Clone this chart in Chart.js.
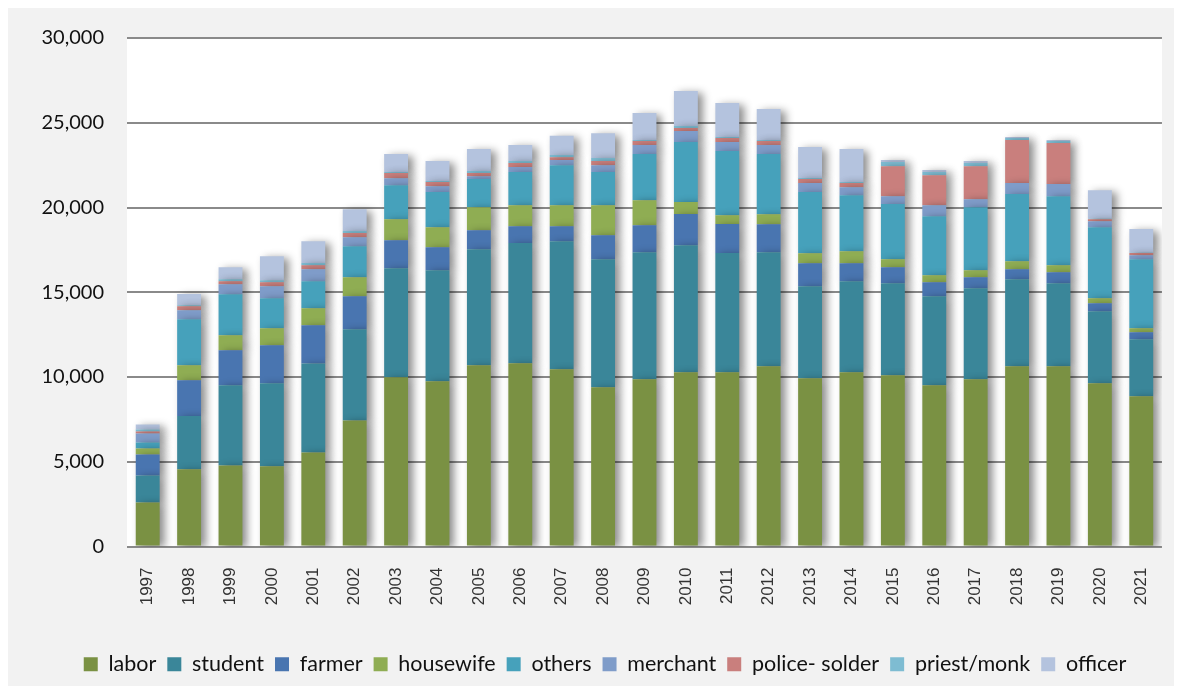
<!DOCTYPE html>
<html>
<head>
<meta charset="utf-8">
<script src="https://cdn.jsdelivr.net/npm/chart.js@4/dist/chart.umd.min.js"></script>
<style>
  body { margin: 0; background: #ffffff; }
  .wrap { position: absolute; left: 8px; top: 8px; width: 1166px; height: 678px; background: #f2f2f2; }
  canvas { position: absolute; left: 0; top: 0; }
</style>
</head>
<body>
<div class="wrap"></div>
<canvas id="chart" width="1183" height="693"></canvas>
<script>
// years
const years = ["1997","1998","1999","2000","2001","2002","2003","2004","2005","2006","2007","2008","2009",
  "2010","2011","2012","2013","2014","2015","2016","2017","2018","2019","2020","2021"];

// values, per occupation
const labor     = [2600,4560,4780,4730,5550,7440,9980,9750,10690,10810,10450,9390,9860,10280,10280,10630,9920,10280,10100,9510,9860,10630,10630,9630,8860];
const student   = [1590,3140,4730,4900,5240,5380,6440,6550,6850,7090,7560,7560,7500,7500,7030,6730,5440,5370,5430,5260,5380,5140,4900,4250,3370];
const farmer    = [1240,2110,2070,2240,2260,1950,1650,1360,1120,1000,890,1420,1600,1830,1710,1650,1350,1060,950,820,650,590,650,470,410];
const housewife = [350,880,880,1000,1000,1120,1240,1180,1360,1240,1240,1770,1470,710,530,590,590,710,470,410,410,470,420,300,240];
const others    = [350,2720,2420,1780,1600,1830,2010,2070,1660,1950,2360,1950,2720,3540,3780,3550,3610,3310,3250,3490,3720,3960,4070,4190,4070];
const merchant  = [530,530,590,710,710,530,410,350,170,300,300,410,530,650,530,530,530,470,470,650,470,650,710,350,240];
const police    = [120,240,180,230,240,240,300,240,180,230,170,240,240,180,240,240,240,240,1770,1770,1950,2540,2420,120,120];
const priest    = [120,60,120,120,120,120,60,60,120,120,120,180,60,120,60,60,60,60,240,180,180,120,120,20,20];
const officer   = [300,660,710,1420,1290,1290,1060,1180,1300,940,1140,1460,1590,2060,2000,1830,1830,1950,120,120,120,60,60,1690,1400];

const seriesNames = ["labor","student","farmer","housewife","others","merchant","police- solder","priest/monk","officer"];
const seriesData = [labor, student, farmer, housewife, others, merchant, police, priest, officer];
const colors = ["#7a9143","#3a8699","#4975b0","#8fad53","#46a1bb","#7f9cc9","#c97f7d","#7ebcd2","#b4c3de"];

// white plot background + bar shadows, nudge legend to the right
const plotBg = {
  id: "plotBg",
  afterLayout(chart) {
    chart.legend.left += 22;
    chart.legend.right += 22;
  },
  beforeDraw(chart) {
    const a = chart.chartArea;
    const ctx = chart.ctx;
    ctx.save();
    ctx.fillStyle = "#ffffff";
    ctx.fillRect(a.left, a.top, a.right - a.left, a.bottom - a.top);
    ctx.restore();
  },
  beforeDatasetsDraw(chart) {
    const ctx = chart.ctx;
    ctx.save();
    ctx.shadowColor = "rgba(0,0,0,0.45)";
    ctx.shadowBlur = 8;
    ctx.shadowOffsetX = 5;
    ctx.shadowOffsetY = 2;
  },
  afterDatasetsDraw(chart) {
    chart.ctx.restore();
  }
};

const ctx = document.getElementById("chart").getContext("2d");
const myChart = new Chart(ctx, {
  type: "bar",
  data: {
    labels: years,
    datasets: seriesNames.map((name, i) => ({
      label: name,
      data: seriesData[i],
      backgroundColor: colors[i],
      borderWidth: 0,
      categoryPercentage: 1,
      barPercentage: 0.577
    }))
  },
  options: {
    responsive: false,
    animation: false,
    layout: { padding: { left: 0, right: 17, top: 38, bottom: 8 } },
    plugins: {
      tooltip: { enabled: false },
      legend: {
        position: "bottom",
        labels: {
          boxWidth: 14,
          boxHeight: 14,
          padding: 11,
          color: "#111111",
          font: { family: "Lato", size: 21.5 }
        }
      }
    },
    scales: {
      x: {
        stacked: true,
        grid: { display: false, drawTicks: false },
        border: { display: false },
        ticks: {
          minRotation: 90,
          maxRotation: 90,
          padding: 21,
          color: "#333333",
          font: { family: "Liberation Sans", size: 17 }
        },
        afterFit(scale) { scale.height = 96; }
      },
      y: {
        stacked: true,
        min: 0,
        max: 30000,
        grid: { color: "#8a8a8a", lineWidth: 2, drawTicks: false },
        border: { display: false },
        ticks: {
          stepSize: 5000,
          padding: 23,
          color: "#111111",
          font: { family: "Lato", size: 20 },
          callback: v => v.toLocaleString("en-US")
        },
        afterFit(scale) { scale.width = 127; }
      }
    }
  },
  plugins: [plotBg]
});
</script>
</body>
</html>
